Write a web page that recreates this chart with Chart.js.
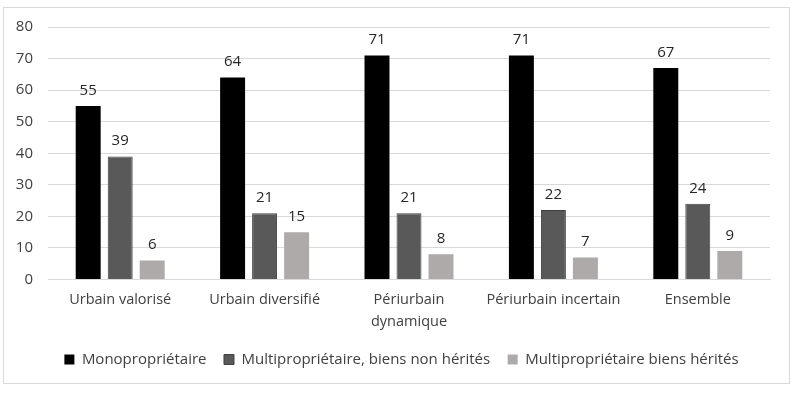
<!DOCTYPE html>
<html>
<head>
<meta charset="utf-8">
<script src="https://cdn.jsdelivr.net/npm/chart.js@4.4.1/dist/chart.umd.min.js"></script>
<style>
html,body{margin:0;padding:0;background:#fff;}
#box{position:absolute;left:3px;top:7px;width:787px;height:377px;border:1px solid #d9d9d9;box-sizing:border-box;}
canvas{display:block;}
</style>
</head>
<body>
<div id="box"><canvas id="c" width="785" height="375"></canvas></div>
<script>
const categories = ["Urbain valorisé", "Urbain diversifié", ["Périurbain", "dynamique"], "Périurbain incertain", "Ensemble"];
const seriesNames = ["Monopropriétaire", "Multipropriétaire, biens non hérités", "Multipropriétaire biens hérités"];
const mono = [55, 64, 71, 71, 67];
const multiNonHerites = [39, 21, 21, 22, 24];
const multiHerites = [6, 15, 8, 7, 9];
const yTicks = [0, 10, 20, 30, 40, 50, 60, 70, 80];

const FONT = "'Open Sans', 'Noto Sans', sans-serif";

const labelPlugin = {
  id: 'valueLabels',
  afterDatasetsDraw(chart) {
    const ctx = chart.ctx;
    ctx.save();
    ctx.font = "15px " + FONT;
    ctx.fillStyle = "#262626";
    ctx.textAlign = "center";
    ctx.textBaseline = "bottom";
    chart.data.datasets.forEach((ds, i) => {
      const meta = chart.getDatasetMeta(i);
      meta.data.forEach((bar, j) => {
        ctx.fillText(String(ds.data[j]), bar.x, bar.y - 8);
      });
    });
    ctx.restore();
  }
};

const legendShift = {
  id: 'legendShift',
  afterLayout(chart) {
    if (chart.legend) { chart.legend.left += 9; chart.legend.right += 9; }
  }
};

new Chart(document.getElementById('c'), {
  type: 'bar',
  data: {
    labels: categories,
    datasets: [
      {label: seriesNames[0], data: mono, backgroundColor: '#000000', borderColor: '#000000', borderWidth: 0},
      {label: seriesNames[1], data: multiNonHerites, backgroundColor: '#595959', borderColor: '#404040', borderWidth: 1},
      {label: seriesNames[2], data: multiHerites, backgroundColor: '#AEAAAA', borderColor: '#A0A0A0', borderWidth: 0}
    ]
  },
  options: {
    responsive: false,
    animation: false,
    devicePixelRatio: 1,
    layout: {padding: {top: 19, right: 19, left: 11, bottom: 6}},
    datasets: {bar: {categoryPercentage: 0.665, barPercentage: 0.78}},
    plugins: {
      legend: {
        position: 'bottom',
        labels: {
          boxWidth: 10, boxHeight: 10, color: '#404040',
          font: {size: 15, family: FONT}, padding: 17.5
        }
      },
      tooltip: {enabled: false}
    },
    scales: {
      x: {
        grid: {display: false, drawTicks: false},
        border: {color: '#d9d9d9'},
        ticks: {color: '#404040', font: {size: 14.5, family: FONT, lineHeight: 1.52}, maxRotation: 0, autoSkip: false, padding: 9},
        afterFit(axis) { axis.height = 55; axis.paddingLeft = 0; axis.paddingRight = 0; }
      },
      y: {
        min: 0, max: 80,
        afterBuildTicks(axis) { axis.ticks = yTicks.map(v => ({value: v})); },
        grid: {color: '#d9d9d9', lineWidth: 1, drawTicks: false},
        border: {display: false},
        ticks: {color: '#404040', font: {size: 15, family: FONT}, padding: 15},
        afterFit(axis) { axis.width = 33; axis.paddingTop = 0; axis.paddingBottom = 0; }
      }
    }
  },
  plugins: [labelPlugin, legendShift]
});
</script>
</body>
</html>
